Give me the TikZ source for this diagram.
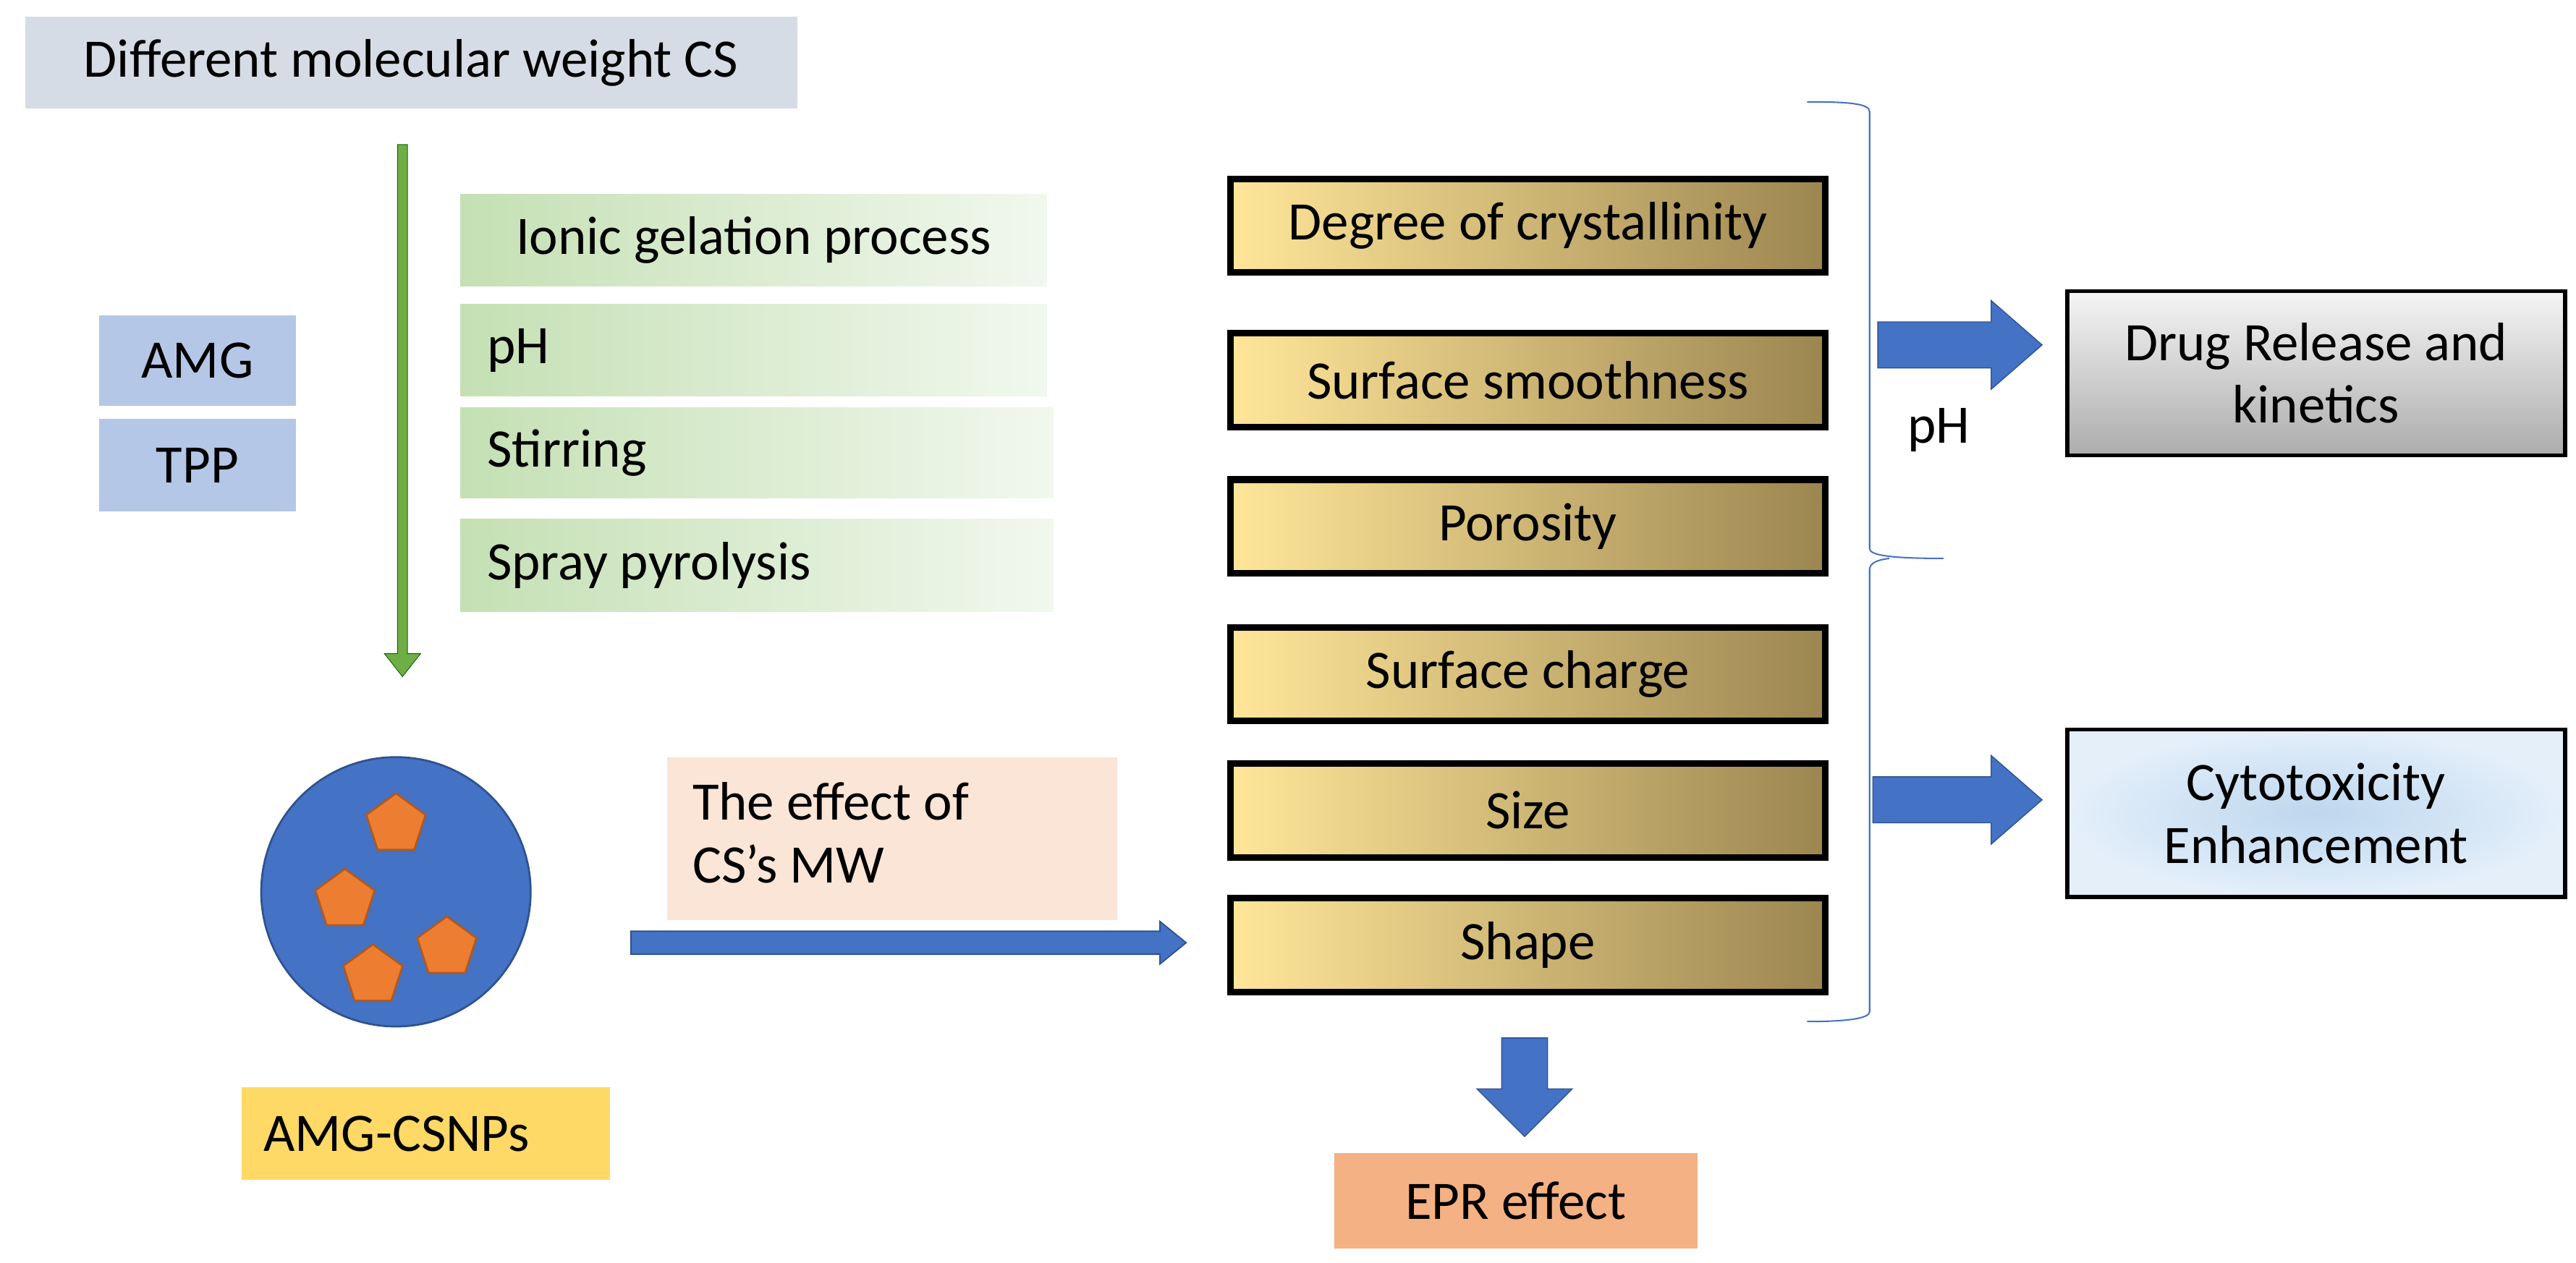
\documentclass[tikz,border=0pt]{standalone}
\usepackage{fontspec}
\setmainfont{Carlito}
\usetikzlibrary{shapes.geometric}
\definecolor{topbox}{HTML}{D6DCE5}
\definecolor{grn}{HTML}{70AD47}
\definecolor{lgrn}{HTML}{C5E0B4}
\definecolor{vlgrn}{HTML}{F1F8EE}
\definecolor{lblue}{HTML}{B4C7E7}
\definecolor{bblue}{HTML}{4472C4}
\definecolor{dblue}{HTML}{2F528F}
\definecolor{org}{HTML}{ED7D31}
\definecolor{dorg}{HTML}{AE5A21}
\definecolor{yel}{HTML}{FFD966}
\definecolor{peach}{HTML}{FBE5D6}
\definecolor{salmon}{HTML}{F4B183}
\definecolor{goldL}{HTML}{FFE699}
\definecolor{goldR}{HTML}{9C8650}
\definecolor{brace}{HTML}{4472C4}
\definecolor{cyin}{HTML}{BDD7EE}
\definecolor{cyout}{HTML}{E4EFFA}
\begin{document}
\begin{tikzpicture}[x=1pt,y=-1pt,
  txt/.style={font=\fontsize{33}{38}\selectfont},
  box/.style={txt,inner sep=0pt,anchor=north west},
  gold/.style={txt,draw=black,line width=4pt,left color=goldL,right color=goldR,minimum width=362pt,minimum height=57pt,inner sep=0pt,anchor=north west},
  fat/.style={fill=bblue,draw=dblue,line width=0.6pt},
  pent/.style={regular polygon,regular polygon sides=5,fill=org,draw=dorg,line width=1.2pt,minimum size=38pt,inner sep=0pt}]
\useasboundingbox (0,0) rectangle (1568,769);
% top box
\node[box,fill=topbox,minimum width=470pt,minimum height=56pt] (top) at (15,10) {};
\node[txt] at (top.center) {Different molecular weight CS};
% green arrow
\fill[grn] (242,88) rectangle (248,398);
\fill[grn] (234,398) -- (256,398) -- (245,412) -- cycle;
\draw[green!40!black,line width=0.4pt] (242,88) -- (242,398) -- (234,398) -- (245,412) -- (256,398) -- (248,398) -- (248,88) -- cycle;
% green boxes
\node[box,left color=lgrn,right color=vlgrn,minimum width=357pt,minimum height=56pt] (g1) at (280,118) {};
\node[txt] at (g1.center) {Ionic gelation process};
\node[box,left color=lgrn,right color=vlgrn,minimum width=357pt,minimum height=56pt] (g2) at (280,185) {};
\node[txt,anchor=west] at ([xshift=13pt]g2.west) {pH};
\node[box,left color=lgrn,right color=vlgrn,minimum width=361pt,minimum height=55pt] (g3) at (280,248) {};
\node[txt,anchor=west] at ([xshift=13pt]g3.west) {Stirring};
\node[box,left color=lgrn,right color=vlgrn,minimum width=361pt,minimum height=56pt] (g4) at (280,316) {};
\node[txt,anchor=west] at ([xshift=13pt]g4.west) {Spray pyrolysis};
% AMG TPP
\node[box,fill=lblue,minimum width=120pt,minimum height=55pt] (amg) at (60,192) {};
\node[txt] at (amg.center) {AMG};
\node[box,fill=lblue,minimum width=120pt,minimum height=56pt] (tpp) at (60,255) {};
\node[txt] at (tpp.center) {TPP};
% nanoparticle
\node[circle,fill=bblue,draw=dblue,line width=1.2pt,minimum size=164pt,inner sep=0pt] (np) at (241,543) {};
\node[pent] (p1) at (241,502) {};
\node[pent] (p2) at (210,548) {};
\node[pent] (p3) at (272,577) {};
\node[pent] (p4) at (227,594) {};
\node[box,fill=yel,minimum width=224pt,minimum height=56pt] (csnp) at (147,662) {};
\node[txt,anchor=west] at ([xshift=10pt]csnp.west) {AMG-CSNPs};
% effect box
\node[box,fill=peach,minimum width=274pt,minimum height=99pt] (eff) at (406,461) {};
\node[txt,anchor=north west,align=left] at (418,473) {The effect of\\CS’s MW};
% thin block arrow
\draw[fat,line width=0.8pt] (384,567) -- (706,567) -- (706,561) -- (722,574) -- (706,587) -- (706,581) -- (384,581) -- cycle;
% gold boxes
\node[gold] (b1) at (747,107) {Degree of crystallinity};
\node[gold] (b2) at (747,201) {Surface smoothness};
\node[gold] (b3) at (747,290) {Porosity};
\node[gold] (b4) at (747,380) {Surface charge};
\node[gold] (b5) at (747,463) {Size};
\node[gold] (b6) at (747,545) {Shape};
% brace
\draw[brace,line width=0.9pt] (1100,62) .. controls (1125,62) and (1138,63) .. (1138,68) -- (1138,334)
  .. controls (1138,338) and (1150,340) .. (1183,340);
\draw[brace,line width=0.9pt] (1150,340) .. controls (1142,341) and (1138,343) .. (1138,347) -- (1138,616)
  .. controls (1138,620) and (1125,622) .. (1100,622);
% fat arrows
\draw[fat] (1143,196) -- (1212,196) -- (1212,183) -- (1243,210) -- (1212,237) -- (1212,224) -- (1143,224) -- cycle;
\node[txt] (ph) at (1180,262) {pH};
\draw[fat] (1140,473) -- (1212,473) -- (1212,460) -- (1243,487) -- (1212,514) -- (1212,501) -- (1140,501) -- cycle;
\draw[fat] (914,632) -- (942,632) -- (942,663) -- (957,663) -- (928,692) -- (899,663) -- (914,663) -- cycle;
% outcome boxes
\node[box,draw=black,line width=2.5pt,top color=gray!8,bottom color=gray!65,minimum width=303pt,minimum height=100pt] (dr) at (1257,176) {};
\node[txt,align=center] at (dr.center) {Drug Release and\\kinetics};
\node[box,draw=black,line width=2.5pt,inner color=cyin,outer color=cyout,minimum width=303pt,minimum height=102pt] (cy) at (1257,443) {};
\node[txt,align=center] at (cy.center) {Cytotoxicity\\Enhancement};
\node[box,fill=salmon,minimum width=221pt,minimum height=58pt] (epr) at (812,702) {};
\node[txt] at (epr.center) {EPR effect};
\end{tikzpicture}
\end{document}
